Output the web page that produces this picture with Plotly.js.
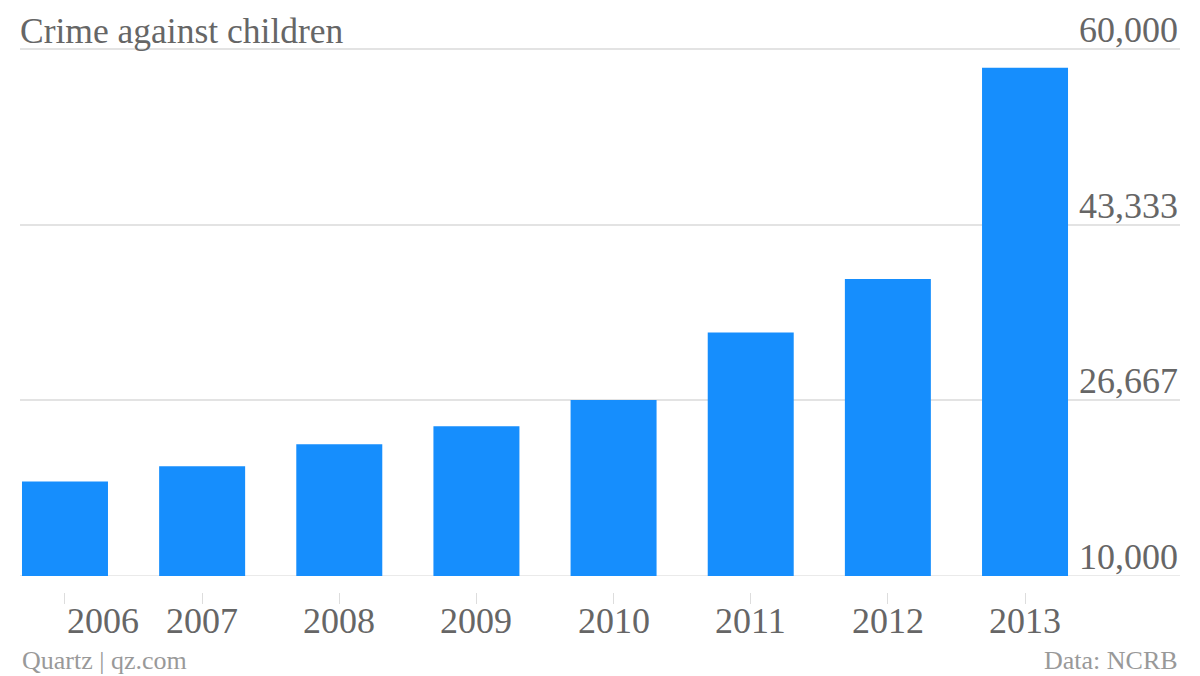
<!DOCTYPE html>
<html>
<head>
<meta charset="utf-8">
<script src="https://cdn.plot.ly/plotly-3.0.1.min.js"></script>
<style>html,body{margin:0;padding:0;background:#fff;}#chart{width:1200px;height:676px;}</style>
</head>
<body>
<div id="chart"></div>
<script>
const years = ["2006", "2007", "2008", "2009", "2010", "2011", "2012", "2013"];
const crimes = [18967, 20410, 22500, 24201, 26694, 33098, 38172, 58224];
const yTickVals = [10000, 26667, 43333, 60000];
const yTickText = ["10,000", "26,667", "43,333", "60,000"];
const titleText = "Crime against children";
const sourceLeft = "Quartz | qz.com";
const sourceRight = "Data: NCRB";

const FONT = "Liberation Serif, Times New Roman, serif";
const W = 1200, H = 676;
const plotTop = 47, plotBottomPx = 592;
const paperH = plotBottomPx - plotTop;
const unitPerPx = 50000 / 527;
const yMin = yTickVals[0], yMax = yTickVals[yTickVals.length - 1] + 2 * unitPerPx;
const baseFrac = (plotBottomPx - 576) / paperH;

const trace = {
  type: "bar",
  x: years,
  y: crimes,
  marker: {color: "#168efd"},
  hoverinfo: "x+y"
};

const xLabelAnn = years.map((yr, i) => ({
  x: i, xref: "x",
  y: (plotBottomPx - 621) / paperH, yref: "paper",
  text: yr, showarrow: false,
  xanchor: i === 0 ? "left" : "center", yanchor: "middle",
  font: {family: FONT, size: 36, color: "#666"}
}));

const yLabelAnn = yTickVals.map((v, i) => ({
  x: 1, xref: "paper", y: v, yref: "y",
  text: yTickText[i], showarrow: false,
  xanchor: "right", yanchor: "bottom", yshift: -3,
  font: {family: FONT, size: 36, color: "#666"}
}));

const footAnn = [
  {xref: "paper", yref: "paper", x: 0, y: (plotBottomPx - 660) / paperH,
   text: sourceLeft, showarrow: false, xanchor: "left", yanchor: "middle",
   font: {family: FONT, size: 26, color: "#999"}},
  {xref: "paper", yref: "paper", x: 1, y: (plotBottomPx - 660) / paperH,
   text: sourceRight, showarrow: false, xanchor: "right", yanchor: "middle",
   font: {family: FONT, size: 26, color: "#999"}}
];

const layout = {
  width: W, height: H,
  margin: {l: 20, r: 20, t: plotTop, b: H - plotBottomPx, pad: 0},
  paper_bgcolor: "#fff", plot_bgcolor: "#fff",
  showlegend: false,
  bargap: 0.373,
  title: {
    text: titleText, x: 20 / W, xref: "container", xanchor: "left",
    y: 1 - 31 / H, yref: "container", yanchor: "middle",
    font: {family: FONT, size: 35.5, color: "#666"}
  },
  xaxis: {
    type: "category",
    range: [-0.328, 8.13],
    anchor: "free", position: 0,
    showgrid: false, zeroline: false, showline: false,
    ticks: "outside", ticklen: 11, tickwidth: 1, tickcolor: "#ddd",
    showticklabels: false,
    fixedrange: true
  },
  yaxis: {
    domain: [baseFrac, 1],
    range: [yMin, yMax],
    side: "right",
    tickvals: yTickVals,
    showticklabels: false,
    ticks: "",
    showgrid: true, gridcolor: "#e3e3e3", gridwidth: 1.5,
    zeroline: false, showline: false,
    fixedrange: true
  },
  shapes: [{
    type: "line", layer: "below", xref: "paper", yref: "y",
    x0: 0, x1: 1, y0: yTickVals[0], y1: yTickVals[0],
    line: {color: "#e3e3e3", width: 1.5}
  }],
  annotations: xLabelAnn.concat(yLabelAnn, footAnn)
};

Plotly.newPlot("chart", [trace], layout, {displayModeBar: false});
</script>
</body>
</html>
